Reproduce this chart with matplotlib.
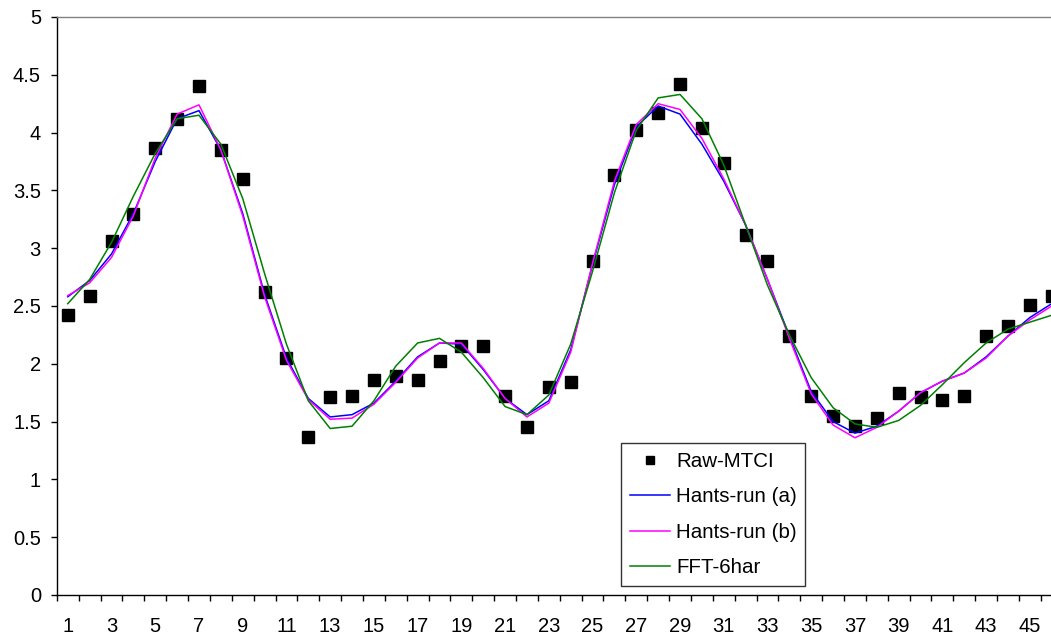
import matplotlib.pyplot as plt
import numpy as np

plt.rcParams['font.family'] = ['Liberation Sans', 'DejaVu Sans']

# 时间序列（46个时相）
periods = list(range(1, 47))

raw_mtci = [2.42, 2.59, 3.06, 3.30, 3.87, 4.12, 4.40, 3.85, 3.60, 2.62,
            2.05, 1.37, 1.71, 1.72, 1.86, 1.89, 1.86, 2.02, 2.15, 2.15,
            1.72, 1.45, 1.80, 1.84, 2.89, 3.63, 4.02, 4.17, 4.42, 4.04,
            3.74, 3.11, 2.89, 2.24, 1.72, 1.55, 1.46, 1.53, 1.75, 1.71,
            1.69, 1.72, 2.24, 2.33, 2.51, 2.59]

hants_a = [2.58, 2.72, 2.95, 3.30, 3.75, 4.12, 4.19, 3.85, 3.30, 2.60,
           2.05, 1.70, 1.54, 1.56, 1.66, 1.85, 2.06, 2.18, 2.17, 1.95,
           1.70, 1.56, 1.68, 2.12, 2.86, 3.55, 4.05, 4.23, 4.16, 3.90,
           3.58, 3.20, 2.73, 2.24, 1.76, 1.50, 1.40, 1.46, 1.59, 1.75,
           1.85, 1.92, 2.06, 2.24, 2.40, 2.52]

hants_b = [2.59, 2.70, 2.92, 3.28, 3.78, 4.16, 4.24, 3.85, 3.28, 2.58,
           2.03, 1.69, 1.52, 1.53, 1.65, 1.84, 2.05, 2.18, 2.18, 1.96,
           1.70, 1.54, 1.66, 2.10, 2.87, 3.58, 4.07, 4.25, 4.20, 3.95,
           3.60, 3.20, 2.73, 2.22, 1.74, 1.47, 1.36, 1.45, 1.59, 1.75,
           1.85, 1.92, 2.05, 2.24, 2.38, 2.50]

fft_6har = [2.52, 2.73, 3.05, 3.45, 3.82, 4.12, 4.15, 3.90, 3.43, 2.78,
            2.17, 1.68, 1.44, 1.46, 1.68, 1.98, 2.18, 2.22, 2.10, 1.88,
            1.63, 1.56, 1.73, 2.17, 2.80, 3.48, 4.02, 4.30, 4.33, 4.12,
            3.72, 3.20, 2.68, 2.25, 1.88, 1.62, 1.48, 1.45, 1.51, 1.64,
            1.82, 2.01, 2.18, 2.30, 2.36, 2.42]

fig = plt.figure(figsize=(10.51, 6.41), dpi=100)
# 绘图区右侧超出画布（原图被裁剪）
ax = fig.add_axes([0.0541, 0.0718, 0.957, 0.9017])

ax.plot(periods, raw_mtci, 's', color='black', markersize=8, linestyle='none', label='Raw-MTCI')
ax.plot(periods, hants_a, color='#0000ff', linewidth=1.1, label='Hants-run (a)')
ax.plot(periods, hants_b, color='#ff00ff', linewidth=1.1, label='Hants-run (b)')
ax.plot(periods, fft_6har, color='#008000', linewidth=1.1, label='FFT-6har')

ax.set_xlim(0.5, 46.5)
ax.set_ylim(0, 5)
ax.set_yticks(np.arange(0, 5.01, 0.5))
ax.set_yticklabels(['0', '0.5', '1', '1.5', '2', '2.5', '3', '3.5', '4', '4.5', '5'])

# x轴：刻度线在类别之间，标签每隔一个
ax.set_xticks(np.arange(0.5, 47, 1))
ax.set_xticklabels([])
ax.set_xticks(periods[::2], minor=True)
ax.set_xticklabels([str(p) for p in periods[::2]], minor=True)
ax.tick_params(axis='x', which='minor', length=0, pad=16, labelsize=14.5)
ax.tick_params(axis='x', which='major', direction='out', length=4.5, width=1, color='black')
ax.tick_params(axis='y', direction='out', length=4.5, width=1, labelsize=14.5, pad=7)

ax.spines['left'].set_color('black')
ax.spines['bottom'].set_color('black')
ax.spines['top'].set_color('#808080')
ax.spines['right'].set_color('#808080')
for s in ax.spines.values():
    s.set_linewidth(1)

leg = ax.legend(loc='lower left', bbox_to_anchor=(0.5909, 0.0858), bbox_transform=fig.transFigure,
                fontsize=14.8, frameon=True, fancybox=False, handlelength=1.95, markerscale=0.75,
                borderpad=0.42, labelspacing=0.8, handletextpad=0.3, borderaxespad=0)
leg.get_frame().set_edgecolor('black')
leg.get_frame().set_linewidth(1)

fig.savefig('out.png', dpi=100)
